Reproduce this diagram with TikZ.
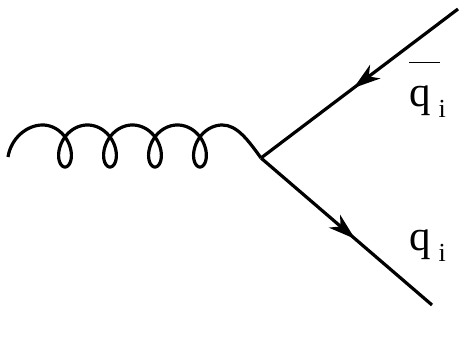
\documentclass[tikz,border=0pt]{standalone}
\usepackage{fontspec}
\setmainfont{Liberation Serif}
\usetikzlibrary{arrows.meta,decorations.markings}
\tikzset{
  fermion/.style={line width=3.2pt, postaction={decorate}, decoration={markings,
    mark=at position #1 with {\arrow{Stealth[length=27pt,width=17pt,inset=8pt]}}}},
  gluon/.style={line width=3.2pt, line join=round},
  lbl/.style={anchor=base west, inner sep=0pt, font=\fontsize{43}{43}\selectfont},
  sub/.style={}
}
\begin{document}
\begin{tikzpicture}[x=1pt,y=-1pt]
\useasboundingbox (0,0) rectangle (471,356);
\coordinate (v) at (261,158);
\coordinate (g0) at (8,157);
\coordinate (qbar) at (458,9);
\coordinate (q) at (432,305);
% gluon
\draw[gluon] (g0) .. controls (11,138) and (27,125) .. (42.5,125)
  -- plot[domain=-pi:7*pi, samples=500, smooth] ({65 + 7.16*\x - 16*sin(\x r)}, {146 + 21*cos(\x r)})
  .. controls (237,125) and (248,140) .. (v);
% fermions
\draw[fermion=0.53] (qbar) -- (v);
\draw[fermion=0.55] (v) -- (q);
% labels
\node[lbl] (lqbar) at (409,106) {\rlap{\raisebox{43pt}{\rule{31pt}{1.5pt}}}q\hspace{8pt}\raisebox{-11pt}{\fontsize{26}{26}\selectfont i}};
\node[lbl] (lq) at (409,250) {q\hspace{8pt}\raisebox{-11pt}{\fontsize{26}{26}\selectfont i}};
\end{tikzpicture}
\end{document}
